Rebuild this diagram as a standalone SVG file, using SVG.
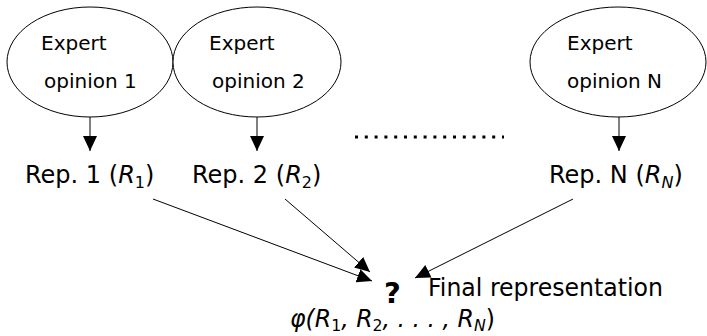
<svg xmlns="http://www.w3.org/2000/svg" width="707" height="336" viewBox="0 0 707 336">
  <style>
    .oval { fill: #ffffff; stroke: #000000; stroke-width: 1; }
    .lbl { font-family: "DejaVu Sans", "Liberation Sans", sans-serif; font-size: 20px; fill: #000000; }
    .rep { font-family: "DejaVu Sans", "Liberation Sans", sans-serif; font-size: 24px; fill: #000000; }
    .q { font-family: "DejaVu Sans", "Liberation Sans", sans-serif; font-size: 29px; font-weight: bold; fill: #000000; }
    .it { font-style: italic; }
    .sub { font-size: 16px; }
    .edge { stroke: #000000; stroke-width: 1; fill: none; marker-end: url(#head); }
  </style>
  <defs>
    <marker id="head" markerUnits="userSpaceOnUse" markerWidth="16" markerHeight="14" refX="15" refY="7" orient="auto">
      <path d="M0,0 L15,7 L0,14 z" fill="#000000"/>
    </marker>
  </defs>
  <rect width="707" height="336" fill="#ffffff"/>

  <g id="expert1">
    <ellipse class="oval" cx="90" cy="62" rx="83" ry="55"/>
    <text class="lbl" x="41" y="50">Expert</text>
    <text class="lbl" x="44" y="88">opinion 1</text>
  </g>
  <g id="expert2">
    <ellipse class="oval" cx="257" cy="62" rx="84" ry="55"/>
    <text class="lbl" x="209" y="50">Expert</text>
    <text class="lbl" x="212" y="88">opinion 2</text>
  </g>
  <g id="expertN">
    <ellipse class="oval" cx="618" cy="62" rx="88" ry="55"/>
    <text class="lbl" x="567" y="50">Expert</text>
    <text class="lbl" x="567" y="88">opinion N</text>
  </g>

  <g id="rep1">
    <text class="rep" x="25" y="183">Rep. 1 (<tspan class="it">R</tspan><tspan class="sub" dy="5">1</tspan><tspan dy="-5">)</tspan></text>
  </g>
  <g id="rep2">
    <text class="rep" x="192" y="183">Rep. 2 (<tspan class="it">R</tspan><tspan class="sub" dy="5">2</tspan><tspan dy="-5">)</tspan></text>
  </g>
  <g id="repN">
    <text class="rep" x="549" y="183">Rep. N (<tspan class="it">R</tspan><tspan class="sub it" dy="5">N</tspan><tspan dy="-5">)</tspan></text>
  </g>

  <g id="ellipsis">
    <line x1="355" y1="137" x2="504" y2="137" stroke="#000000" stroke-width="3" stroke-dasharray="3 6.8"/>
  </g>

  <g id="final">
    <text class="q" x="384" y="303">?</text>
    <text class="rep" x="428" y="296" textLength="235" lengthAdjust="spacingAndGlyphs">Final representation</text>
    <text class="rep it" x="290" y="327" textLength="205" lengthAdjust="spacingAndGlyphs">φ(R<tspan class="sub" dy="4" font-style="normal">1</tspan><tspan dy="-4">, R</tspan><tspan class="sub" dy="4" font-style="normal">2</tspan><tspan dy="-4">, . . . , R</tspan><tspan class="sub" dy="4">N</tspan><tspan dy="-4" font-style="normal">)</tspan></text>
  </g>

  <g id="connectors">
    <line class="edge" x1="90" y1="117" x2="90" y2="151"/>
    <line class="edge" x1="257" y1="117" x2="257" y2="151"/>
    <line class="edge" x1="619" y1="117" x2="619" y2="151"/>
    <line class="edge" x1="153" y1="199" x2="372" y2="281"/>
    <line class="edge" x1="285" y1="199" x2="370" y2="272"/>
    <line class="edge" x1="573" y1="199" x2="415" y2="278"/>
  </g>
</svg>
